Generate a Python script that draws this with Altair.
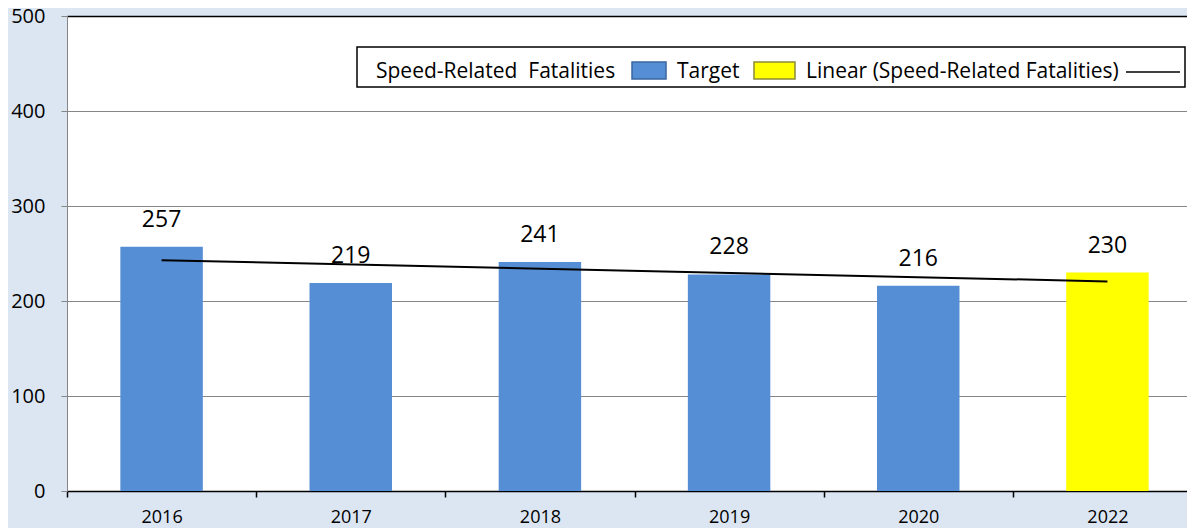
import altair as alt
import pandas as pd

years = ["2016", "2017", "2018", "2019", "2020", "2022"]
values = [257, 219, 241, 228, 216, 230]
series = ["Speed-Related Fatalities"] * 5 + ["Target"]
trend_years = ["2016", "2022"]
trend_values = [243.0, 220.6]
y_ticks = [0, 100, 200, 300, 400, 500]
legend_labels = ["Speed-Related\u00a0 Fatalities", "Target", "Linear (Speed-Related Fatalities)"]

BLUE = "#558ed5"
YELLOW = "#ffff00"
BG = "#dce6f2"
GRID = "#868686"
FONT = "Open Sans"

df = pd.DataFrame({"year": years, "value": values, "series": series})
tdf = pd.DataFrame({"year": trend_years, "value": trend_values})

xscale = alt.Scale(domain=years, range=[0, 1135], paddingInner=0, paddingOuter=0)
yscale = alt.Scale(domain=[0, 500])

x_enc = alt.X("year:N", scale=xscale, sort=years, title=None,
              axis=alt.Axis(labelAngle=0, tickBand="extent", domainColor="black",
                            tickColor="black", tickSize=6, labelFontSize=18,
                            labelPadding=11, labelFont=FONT, labelColor="black",
                            grid=False, domainWidth=1.5, tickWidth=1.5))
y_enc = alt.Y("value:Q", scale=yscale, title=None,
              axis=alt.Axis(values=y_ticks, grid=True,
                            gridColor=alt.condition("datum.value == 500", alt.value("black"), alt.value(GRID)),
                            gridWidth=alt.condition("datum.value == 500", alt.value(1.5), alt.value(1)),
                            domainColor=GRID, tickColor=GRID, tickSize=6,
                            labelFontSize=20, labelPadding=16, labelFont=FONT,
                            labelColor="black"))

bars = alt.Chart(df).mark_bar(width=alt.RelativeBandSize(0.436)).encode(
    x=x_enc,
    y=y_enc,
    color=alt.Color("series:N",
                    scale=alt.Scale(domain=["Speed-Related Fatalities", "Target"], range=[BLUE, YELLOW]),
                    legend=None),
)

labels = alt.Chart(df).mark_text(fontSize=23, font=FONT, baseline="middle", dy=-27, color="black").encode(
    x=alt.X("year:N", scale=xscale, sort=years),
    y=alt.Y("value:Q", scale=yscale),
    text=alt.Text("value:Q"),
)

trend = alt.Chart(tdf).mark_line(color="black", strokeWidth=2).encode(
    x=alt.X("year:N", scale=xscale, sort=years),
    y=alt.Y("value:Q", scale=yscale),
)

one = alt.Data(values=[{}])
LFS = 21
leg_box = alt.Chart(one).mark_rect(fill="white", stroke="black", strokeWidth=1.5).encode(
    x=alt.value(290), x2=alt.value(1118), y=alt.value(31), y2=alt.value(71))
leg_t1 = alt.Chart(one).mark_text(text=legend_labels[0], align="left", baseline="middle", fontSize=LFS, font=FONT, color="black").encode(
    x=alt.value(309), y=alt.value(56))
leg_s1 = alt.Chart(one).mark_rect(fill=BLUE, stroke="#3a679e", strokeWidth=1.5).encode(
    x=alt.value(565), x2=alt.value(599), y=alt.value(46), y2=alt.value(63))
leg_t2 = alt.Chart(one).mark_text(text=legend_labels[1], align="left", baseline="middle", fontSize=LFS, font=FONT, color="black").encode(
    x=alt.value(610), y=alt.value(56))
leg_s2 = alt.Chart(one).mark_rect(fill=YELLOW, stroke="#8a8a3a", strokeWidth=1.5).encode(
    x=alt.value(687), x2=alt.value(728), y=alt.value(46), y2=alt.value(63))
leg_t3 = alt.Chart(one).mark_text(text=legend_labels[2], align="left", baseline="middle", fontSize=LFS, font=FONT, color="black").encode(
    x=alt.value(739), y=alt.value(56))
leg_line = alt.Chart(one).mark_rule(color="black", strokeWidth=1.5).encode(
    x=alt.value(1059), x2=alt.value(1113), y=alt.value(56))

chart = alt.layer(bars, trend, labels, leg_box, leg_t1, leg_s1, leg_t2, leg_s2, leg_t3, leg_line).properties(
    width=1120, height=475,
    background=BG,
    autosize=alt.AutoSizeParams(type="none"),
    padding={"left": 59, "top": 8, "right": 0, "bottom": 37},
).configure_view(fill="white", stroke=None)

chart.save("out.html", embed_options={"renderer": "svg", "actions": False})
